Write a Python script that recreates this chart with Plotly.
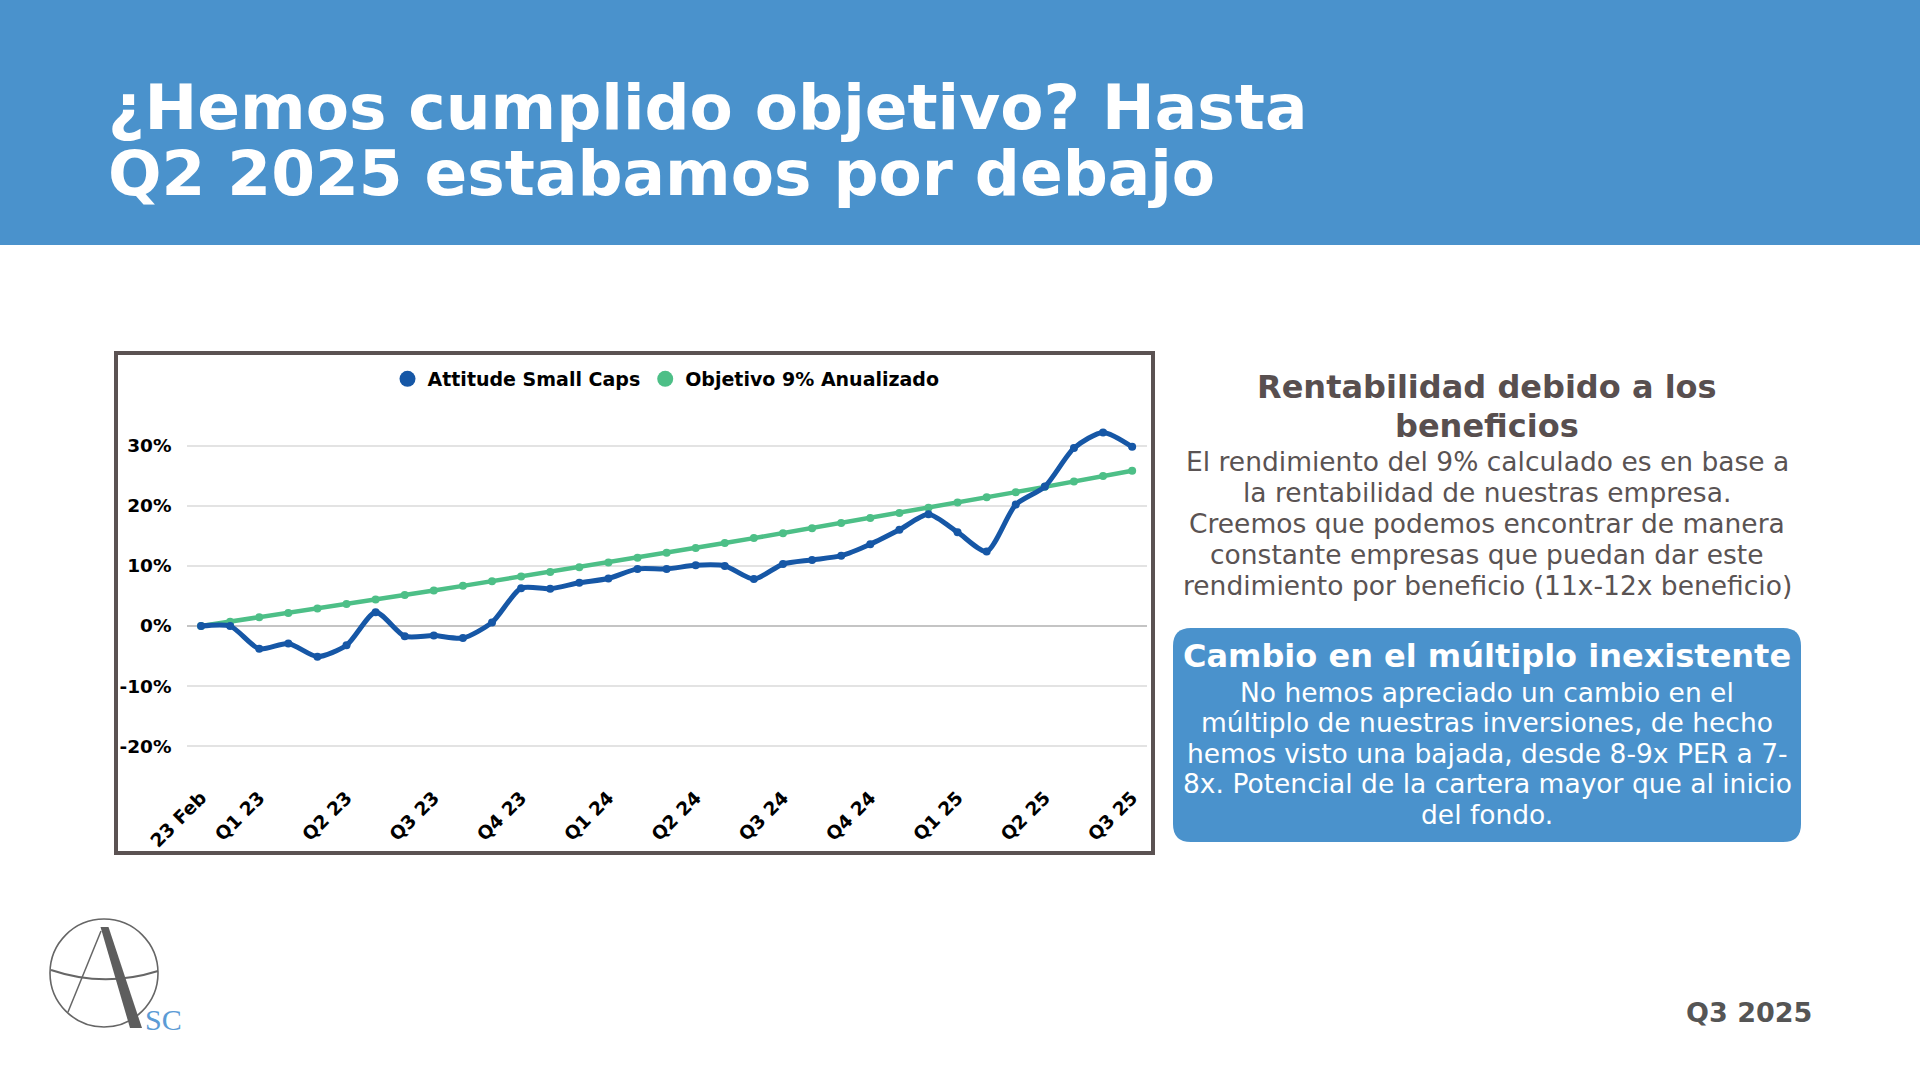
import plotly.graph_objects as go

W, H = 1920, 1080

# monthly points, index 0 = fund start
periods = ["Inicio", "Feb 23", "Mar 23", "Abr 23", "May 23", "Jun 23", "Jul 23", "Ago 23",
           "Sep 23", "Oct 23", "Nov 23", "Dic 23", "Ene 24", "Feb 24", "Mar 24", "Abr 24",
           "May 24", "Jun 24", "Jul 24", "Ago 24", "Sep 24", "Oct 24", "Nov 24", "Dic 24",
           "Ene 25", "Feb 25", "Mar 25", "Abr 25", "May 25", "Jun 25", "Jul 25", "Ago 25",
           "Sep 25"]

fondo = [0, 0, -3.8, -2.9, -5.1, -3.2, 2.3, -1.7, -1.6, -2.0, 0.6, 6.3, 6.2, 7.2, 7.9, 9.5,
         9.5, 10.1, 10.0, 7.8, 10.3, 11.0, 11.7, 13.6, 16.0, 18.6, 15.6, 12.4, 20.2, 23.2,
         29.6, 32.2, 29.8]

objetivo = [0, 0.72, 1.45, 2.18, 2.92, 3.66, 4.40, 5.16, 5.91, 6.68, 7.45, 8.22, 9.00,
            9.79, 10.58, 11.37, 12.18, 12.99, 13.80, 14.62, 15.45, 16.28, 17.12, 17.96,
            18.81, 19.67, 20.53, 21.40, 22.27, 23.15, 24.04, 24.94, 25.84]

tick_periods = ["Inicio", "Mar 23", "Jun 23", "Sep 23", "Dic 23", "Mar 24", "Jun 24",
                "Sep 24", "Dic 24", "Mar 25", "Jun 25", "Sep 25"]
tick_labels = ["23 Feb", "Q1 23", "Q2 23", "Q3 23", "Q4 23", "Q1 24", "Q2 24",
               "Q3 24", "Q4 24", "Q1 25", "Q2 25", "Q3 25"]

y_ticks = [-20, -10, 0, 10, 20, 30]
y_labels = ["-20%", "-10%", "0%", "10%", "20%", "30%"]

BLUE = "#1657A6"
GREEN = "#4DBF87"
HEADER = "#4A92CC"
FONT = "DejaVu Sans"


def px(x):
    return x / W


def py(y):
    return 1 - y / H


fig = go.Figure()

fig.add_trace(go.Scatter(
    x=periods, y=objetivo, mode="lines+markers", showlegend=False,
    line=dict(color=GREEN, width=4.5), marker=dict(color=GREEN, size=8)
))
fig.add_trace(go.Scatter(
    x=periods, y=fondo, mode="lines+markers", showlegend=False,
    line=dict(color=BLUE, width=5, shape="spline", smoothing=0.7),
    marker=dict(color=BLUE, size=8)
))
# legend entries (dots only)
fig.add_trace(go.Scatter(x=[None], y=[None], mode="markers", name="Attitude Small Caps",
                         marker=dict(color=BLUE, size=16)))
fig.add_trace(go.Scatter(x=[None], y=[None], mode="markers", name="Objetivo 9% Anualizado",
                         marker=dict(color=GREEN, size=16)))

shapes = []
# header band
shapes.append(dict(type="rect", xref="paper", yref="paper", x0=0, x1=1,
                   y0=py(245), y1=1, fillcolor=HEADER, line=dict(width=0), layer="below"))
# chart frame
shapes.append(dict(type="rect", xref="paper", yref="paper", x0=px(116), x1=px(1153),
                   y0=py(853), y1=py(353), line=dict(color="#5B5252", width=4),
                   fillcolor="rgba(0,0,0,0)", layer="above"))

# rounded blue box
bx0, bx1, by0, by1, r = 1173, 1801, 628, 842, 18
path = (f"M {px(bx0 + r)},{py(by0)} L {px(bx1 - r)},{py(by0)} "
        f"Q {px(bx1)},{py(by0)} {px(bx1)},{py(by0 + r)} L {px(bx1)},{py(by1 - r)} "
        f"Q {px(bx1)},{py(by1)} {px(bx1 - r)},{py(by1)} L {px(bx0 + r)},{py(by1)} "
        f"Q {px(bx0)},{py(by1)} {px(bx0)},{py(by1 - r)} L {px(bx0)},{py(by0 + r)} "
        f"Q {px(bx0)},{py(by0)} {px(bx0 + r)},{py(by0)} Z")
shapes.append(dict(type="path", xref="paper", yref="paper", path=path,
                   fillcolor=HEADER, line=dict(width=0), layer="below"))

# logo
shapes.append(dict(type="circle", xref="paper", yref="paper", x0=px(50), x1=px(158),
                   y0=py(1027), y1=py(919), line=dict(color="#666666", width=1.6)))
shapes.append(dict(type="path", xref="paper", yref="paper",
                   path=f"M {px(51)},{py(970)} Q {px(104)},{py(988)} {px(158)},{py(971)}",
                   line=dict(color="#666666", width=2)))
shapes.append(dict(type="path", xref="paper", yref="paper",
                   path=f"M {px(101)},{py(931)} L {px(68)},{py(1012)}",
                   line=dict(color="#666666", width=1.5)))
shapes.append(dict(type="path", xref="paper", yref="paper",
                   path=(f"M {px(100.5)},{py(927)} L {px(108.5)},{py(927)} "
                         f"L {px(142)},{py(1028)} L {px(130)},{py(1028)} Z"),
                   fillcolor="#5E5E5E", line=dict(width=0)))

annotations = []


def txt(s, x, base, size, color, bold=False, anchor="center", family=FONT):
    annotations.append(dict(
        text=s, xref="paper", yref="paper", x=px(x), y=py(base - 0.35 * size),
        xanchor=anchor, yanchor="middle", showarrow=False,
        font=dict(family=family, size=size, color=color,
                  weight="bold" if bold else "normal")
    ))


# title
txt("¿Hemos cumplido objetivo? Hasta", 106, 130, 63, "white", True, "left")
txt("Q2 2025 estabamos por debajo", 106, 196, 63, "white", True, "left")

# right panel
HEAD = "#584F4F"
BODY = "#5A5353"
txt("Rentabilidad debido a los", 1487, 398, 32, HEAD, True)
txt("beneficios", 1487, 437, 32, HEAD, True)
body = ["El rendimiento del 9% calculado es en base a",
        "la rentabilidad de nuestras empresa.",
        "Creemos que podemos encontrar de manera",
        "constante empresas que puedan dar este",
        "rendimiento por beneficio (11x-12x beneficio)"]
for i, line in enumerate(body):
    txt(line, 1487, 470.7 + 31 * i, 26.5, BODY)

txt("Cambio en el múltiplo inexistente", 1487, 666.7, 32, "white", True)
box_body = ["No hemos apreciado un cambio en el",
            "múltiplo de nuestras inversiones, de hecho",
            "hemos visto una bajada, desde 8-9x PER a 7-",
            "8x. Potencial de la cartera mayor que al inicio",
            "del fondo."]
for i, line in enumerate(box_body):
    txt(line, 1487, 701.7 + 30.4 * i, 26.5, "white")

txt("Q3 2025", 1749, 1021.7, 27, "#555555", True)
txt("SC", 163, 1030, 30, "#5B9BD5", False, "center", "Liberation Serif")

fig.update_layout(
    template="none",
    width=W, height=H,
    margin=dict(l=0, r=0, t=0, b=0, pad=0, autoexpand=False),
    paper_bgcolor="white", plot_bgcolor="white",
    shapes=shapes, annotations=annotations,
    showlegend=True,
    legend=dict(orientation="h", x=px(666), xanchor="center", y=py(379), yanchor="middle",
                font=dict(family=FONT, size=19, color="black", weight="bold"),
                bgcolor="rgba(0,0,0,0)", borderwidth=0),
    xaxis=dict(domain=[px(186.5), px(1146.7)], type="category", range=[-0.5, 32.5],
               tickmode="array", tickvals=tick_periods, ticktext=tick_labels,
               tickangle=-45, showgrid=False, showline=False, zeroline=False,
               ticks="", automargin=False,
               tickfont=dict(family=FONT, size=18.5, color="black", weight="bold")),
    yaxis=dict(domain=[py(782.3), py(409.6)], range=[-26, 36],
               tickmode="array", tickvals=y_ticks, ticktext=y_labels,
               showgrid=True, gridcolor="#E3E3E3", gridwidth=1.5,
               zeroline=True, zerolinecolor="#C4C4C4", zerolinewidth=1.5,
               showline=False, ticks="", ticklabelstandoff=14, automargin=False,
               tickfont=dict(family=FONT, size=18.5, color="black", weight="bold")),
)

fig.write_html("out.html", config={"displayModeBar": False},
               post_script="document.body.style.margin='0';document.body.style.overflow='hidden';")
